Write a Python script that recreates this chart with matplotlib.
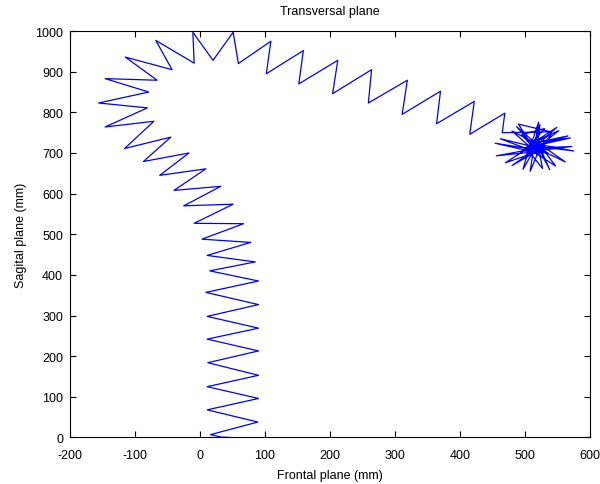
import matplotlib
matplotlib.use("Agg")
import matplotlib.pyplot as plt
import numpy as np

# trajectory vertices (mm), in walking order
# straight part going up from the origin
up_x = [46, 33, 16, 89, 11, 90, 11, 90, 12, 90, 11, 90, 11, 90, 9, 90, 15, 85, 11, 78, 3, 67, -9, 51, -25]
up_y = [0, 1, 7, 38, 68, 96, 125, 153, 184, 213, 242, 269, 298, 327, 357, 385, 410, 432, 448, 480, 488, 526, 527, 574, 570]

# the bend to the left and over the top
bend_x = [32, -40, 9, -62, -17, -87, -45, -116, -71, -146, -81, -156, -79, -146, -66, -115, -43, -68, -9, -11, 20, 51, 59, 109, 102]
bend_y = [618, 608, 661, 645, 700, 679, 739, 711, 778, 764, 811, 823, 850, 883, 879, 936, 905, 977, 921, 997, 928, 997, 920, 975, 895]

# walking to the right
right_x = [159, 152, 212, 204, 264, 259, 319, 311, 370, 364, 422, 415, 469, 465]
right_y = [952, 870, 928, 846, 905, 823, 879, 795, 852, 772, 827, 746, 798, 750]

# turning on the spot at the end
star_x = [540, 490, 515, 521, 505, 549, 500, 570, 508, 575, 510, 562, 520, 538, 515, 508,
          525, 480, 530, 456, 528, 454, 520, 495, 530, 500, 535, 505, 512, 525,
          487, 518, 523, 510, 552, 507, 566, 503, 572, 512, 547, 519, 527, 505,
          497, 522, 470, 530, 462, 517, 480, 514, 540, 520, 508, 528, 515]
star_y = [752, 771, 705, 776, 700, 763, 712, 737, 725, 705, 718, 678, 725, 659, 730, 655,
          720, 669, 715, 693, 705, 724, 700, 745, 760, 705, 700, 730, 712, 712,
          765, 708, 770, 702, 755, 722, 742, 711, 716, 704, 668, 728, 662, 706,
          660, 730, 676, 709, 735, 702, 754, 726, 745, 698, 718, 720, 710]

x = np.array(up_x + bend_x + right_x + star_x)
y = np.array(up_y + bend_y + right_y + star_y)

plt.rcParams["font.family"] = ["Liberation Sans", "DejaVu Sans"]
plt.rcParams["axes.unicode_minus"] = False
fig = plt.figure(figsize=(6, 4.85), dpi=100, facecolor="white")
ax = fig.add_axes([0.1167, 0.0959, 0.8666, 0.838])

ax.plot(x, y, color="#0000ff", lw=0.9)

ax.set_xlim(-200, 600)
ax.set_ylim(0, 1000)
ax.set_xticks(np.arange(-200, 601, 100))
ax.set_yticks(np.arange(0, 1001, 100))
ax.tick_params(direction="in", top=True, right=True, length=4, labelsize=9, width=0.8)
ax.tick_params(axis="x", pad=8)
ax.tick_params(axis="y", pad=5)
for sp in ax.spines.values():
    sp.set_linewidth(0.8)

ax.set_title("Transversal plane", fontsize=9, pad=12)
ax.set_xlabel("Frontal plane (mm)", fontsize=9, labelpad=6)
ax.set_ylabel("Sagital plane (mm)", fontsize=9, labelpad=6)

fig.savefig("out.png", dpi=100, facecolor="white")
